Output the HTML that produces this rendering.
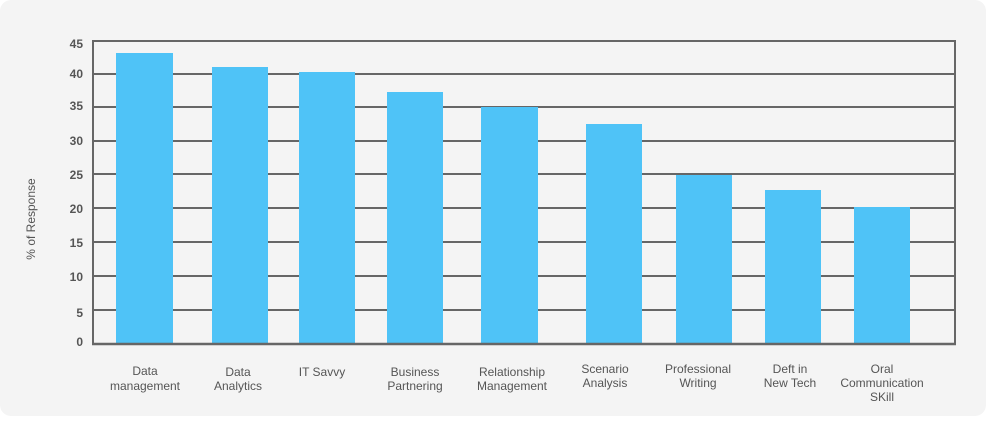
<!DOCTYPE html>
<html><head><style>
body{margin:0;background:#fff;width:987px;height:438px;overflow:hidden;font-family:"Liberation Sans",sans-serif}
</style></head><body>
<svg width="987" height="438" xmlns="http://www.w3.org/2000/svg" font-family="Liberation Sans, sans-serif">
<rect x="0" y="0" width="986" height="416" rx="11" fill="#f4f4f4"/>
<g stroke="#666" stroke-width="2">
<line x1="93" y1="41" x2="956" y2="41"/>
<line x1="93" y1="74" x2="956" y2="74"/>
<line x1="93" y1="107" x2="956" y2="107"/>
<line x1="93" y1="141" x2="956" y2="141"/>
<line x1="93" y1="174" x2="956" y2="174"/>
<line x1="93" y1="208" x2="956" y2="208"/>
<line x1="93" y1="242" x2="956" y2="242"/>
<line x1="93" y1="276" x2="956" y2="276"/>
<line x1="93" y1="310" x2="956" y2="310"/>
<line x1="93" y1="40" x2="93" y2="345"/>
<line x1="955" y1="40" x2="955" y2="345"/>
</g>
<g fill="#4fc3f7">
<rect x="116" y="53" width="57" height="291"/>
<rect x="212" y="67" width="56" height="277"/>
<rect x="299" y="72" width="56" height="272"/>
<rect x="387" y="92" width="56" height="252"/>
<rect x="481" y="107" width="57" height="237"/>
<rect x="586" y="124" width="56" height="220"/>
<rect x="676" y="175" width="56" height="169"/>
<rect x="765" y="190" width="56" height="154"/>
<rect x="854" y="207" width="56" height="137"/>
</g>
<line x1="92" y1="344" x2="956" y2="344" stroke="#666" stroke-width="2.5"/>
<g fill="#555" font-size="12" text-anchor="end" font-weight="bold">
<text x="83" y="48">45</text><text x="83" y="78">40</text><text x="83" y="110">35</text>
<text x="83" y="145">30</text><text x="83" y="179">25</text><text x="83" y="213">20</text>
<text x="83" y="247">15</text><text x="83" y="281">10</text><text x="83" y="317">5</text>
<text x="83" y="346">0</text>
</g>
<text transform="translate(35,219) rotate(-90)" text-anchor="middle" font-size="12" fill="#555">% of Response</text>
<g fill="#555" font-size="12" text-anchor="middle">
<text x="145" y="375">Data</text><text x="145" y="390">management</text>
<text x="238" y="376">Data</text><text x="238" y="390">Analytics</text>
<text x="322" y="376">IT Savvy</text>
<text x="415" y="376">Business</text><text x="415" y="390">Partnering</text>
<text x="512" y="376">Relationship</text><text x="512" y="390">Management</text>
<text x="605" y="373">Scenario</text><text x="605" y="387">Analysis</text>
<text x="698" y="373">Professional</text><text x="698" y="387">Writing</text>
<text x="790" y="373">Deft in</text><text x="790" y="387">New Tech</text>
<text x="882" y="373">Oral</text><text x="882" y="387">Communication</text><text x="882" y="401">SKill</text>
</g>
</svg>
</body></html>
